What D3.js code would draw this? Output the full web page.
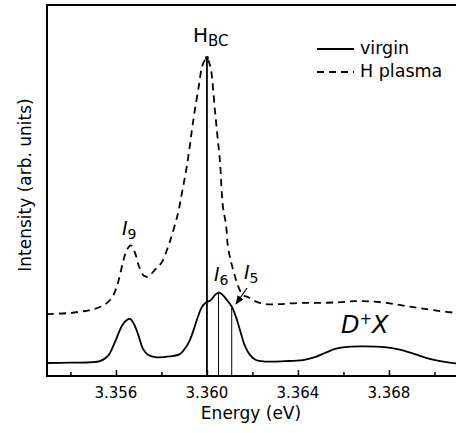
<!DOCTYPE html>
<html><head><meta charset="utf-8">
<script src="https://cdn.jsdelivr.net/npm/d3@7/dist/d3.min.js"></script>
<style>
body{margin:0;background:#fff;}
svg{display:block;font-family:"DejaVu Sans",sans-serif;}
</style></head>
<body><svg id="c" width="456" height="433"></svg>
<script>
// Energy (eV) samples and intensities (arb. units)
const virginE = [3.35297,3.35398,3.35530,3.35565,3.35596,3.35626,3.35648,3.35662,3.35679,3.35697,3.35719,3.35741,3.35771,3.35837,3.35881,3.35908,3.35925,3.35943,3.35960,3.35978,3.35996,3.36018,3.36035,3.36051,3.36066,3.36084,3.36110,3.36132,3.36149,3.36167,3.36189,3.36215,3.36255,3.36343,3.36422,3.36475,3.36519,3.36563,3.36607,3.36673,3.36782,3.36848,3.36914,3.36980,3.37046,3.37097];
const virginI = [3.5,3.6,4.0,5.4,9.2,13.5,15.1,15.4,14.0,11.3,7.3,5.7,5.1,5.3,5.9,7.8,9.7,12.7,15.9,18.6,19.8,20.5,21.8,22.5,22.0,20.8,18.6,15.1,11.6,8.1,5.7,4.3,3.9,4.0,4.3,5.1,6.2,7.3,7.8,8.0,7.8,7.1,5.9,4.6,3.8,3.4];
const plasmaE = [3.35297,3.35398,3.35486,3.35530,3.35565,3.35587,3.35609,3.35631,3.35648,3.35666,3.35684,3.35701,3.35723,3.35741,3.35771,3.35802,3.35829,3.35846,3.35873,3.35890,3.35916,3.35934,3.35947,3.35965,3.35978,3.35991,3.36000,3.36009,3.36018,3.36035,3.36048,3.36057,3.36070,3.36084,3.36092,3.36105,3.36119,3.36136,3.36158,3.36180,3.36211,3.36255,3.36321,3.36409,3.36497,3.36585,3.36651,3.36716,3.36791,3.36870,3.36936,3.37024,3.37097];
const plasmaI = [16.7,17.0,17.8,18.6,19.9,21.6,25.1,30.7,34.0,35.2,33.2,29.6,27.0,26.8,28.6,30.7,34.8,38.0,43.9,49.3,58.2,66.3,71.7,78.4,83.3,85.2,85.7,84.6,82.5,71.7,63.6,58.2,45.8,40.7,35.0,31.0,27.8,24.4,21.8,21.3,20.2,19.4,19.4,19.7,19.7,19.9,20.2,20.1,19.7,18.9,18.3,17.5,17.0];
// marked lines: energy, top intensity
const markE = [3.3600, 3.36051, 3.36109];
const markTop = [85.7, 22.5, 18.6];
const majorTicks = [3.356, 3.360, 3.364, 3.368];
const tickLabels = ["3.356", "3.360", "3.364", "3.368"];
const minorTicks = [3.354, 3.358, 3.362, 3.366, 3.370];

const svg = d3.select("#c");
const x = d3.scaleLinear().domain([3.35297, 3.37097]).range([47, 456.5]);
const y = d3.scaleLinear().domain([0, 100]).range([376, 5]);

svg.append("defs").append("clipPath").attr("id","clip")
  .append("rect").attr("x",47).attr("y",5).attr("width",409).attr("height",371);

const line = d3.line().x(d=>x(d[0])).y(d=>y(d[1])).curve(d3.curveCatmullRom.alpha(0.5));
const g = svg.append("g").attr("clip-path","url(#clip)");
g.append("path").datum(virginE.map((e,i)=>[e,virginI[i]]))
  .attr("d",line).attr("fill","none").attr("stroke","#000").attr("stroke-width",1.8);
g.append("path").datum(plasmaE.map((e,i)=>[e,plasmaI[i]]))
  .attr("d",line).attr("fill","none").attr("stroke","#000").attr("stroke-width",1.8)
  .attr("stroke-dasharray","7,5");

// vertical marker lines
markE.forEach((e,i)=>{
  g.append("line").attr("x1",x(e)).attr("x2",x(e)).attr("y1",y(markTop[i])).attr("y2",y(0))
   .attr("stroke","#000").attr("stroke-width", i===0?1.8:1);
});
svg.append("circle").attr("cx",x(markE[0])).attr("cy",y(markTop[0])).attr("r",2).attr("fill","#000");

// axis frame
svg.append("path").attr("d",`M456,${y(100)}H${x.range()[0]}V${y(0)}H456`)
  .attr("fill","none").attr("stroke","#000").attr("stroke-width",2);

// ticks (inward)
const xa = d3.axisTop(x).tickValues(majorTicks).tickSize(6).tickFormat("");
const ga = svg.append("g").attr("transform",`translate(0,${y(0)})`).call(xa);
ga.select(".domain").remove();
ga.selectAll("line").attr("stroke-width",1.5);
const xm = d3.axisTop(x).tickValues(minorTicks).tickSize(4).tickFormat("");
const gm = svg.append("g").attr("transform",`translate(0,${y(0)})`).call(xm);
gm.select(".domain").remove();
gm.selectAll("line").attr("stroke-width",1.5);

// tick labels
svg.selectAll("text.tl").data(majorTicks).enter().append("text")
  .attr("x",d=>x(d)).attr("y",398).attr("text-anchor","middle")
  .attr("font-size",15).text((d,i)=>tickLabels[i]);

svg.append("text").attr("x",251).attr("y",419).attr("text-anchor","middle")
  .attr("font-size",17).text("Energy (eV)");
svg.append("text").attr("transform","translate(31,185) rotate(-90)").attr("text-anchor","middle")
  .attr("font-size",17).text("Intensity (arb. units)");

// legend
svg.append("line").attr("x1",317).attr("x2",354).attr("y1",49).attr("y2",49).attr("stroke","#000").attr("stroke-width",1.8);
svg.append("line").attr("x1",317).attr("x2",354).attr("y1",72).attr("y2",72).attr("stroke","#000").attr("stroke-width",1.8).attr("stroke-dasharray","7,5");
svg.append("text").attr("x",360).attr("y",54).attr("font-size",17.5).text("virgin");
svg.append("text").attr("x",360).attr("y",77).attr("font-size",17.5).text("H plasma");

// annotations
const hb = svg.append("text").attr("x",193).attr("y",42).attr("font-size",20);
hb.append("tspan").text("H");
hb.append("tspan").attr("font-size",15).attr("dy",4).text("BC");

function ilabel(xp, yp, sub){
  const t = svg.append("text").attr("x",xp).attr("y",yp).attr("font-size",19);
  t.append("tspan").attr("font-style","italic").text("I");
  t.append("tspan").attr("font-size",14).attr("dy",4).text(sub);
}
ilabel(122,235,"9");
ilabel(214,281,"6");
ilabel(244,279,"5");

const dx = svg.append("text").attr("x",341).attr("y",333).attr("font-size",24);
dx.append("tspan").attr("font-style","italic").text("D");
dx.append("tspan").attr("font-size",15).attr("dy",-9).attr("fill","#000").text("+");
dx.append("tspan").attr("font-style","italic").attr("dy",9).text("X");

// arrow to I5
svg.append("defs").append("marker").attr("id","ah").attr("viewBox","0 0 10 10")
  .attr("refX",9).attr("refY",5).attr("markerWidth",7).attr("markerHeight",7).attr("orient","auto")
  .append("path").attr("d","M0,1L10,5L0,9Z").attr("fill","#000");
svg.append("line").attr("x1",247).attr("y1",288).attr("x2",236).attr("y2",304)
  .attr("stroke","#000").attr("stroke-width",1.3).attr("marker-end","url(#ah)");
</script></body></html>
